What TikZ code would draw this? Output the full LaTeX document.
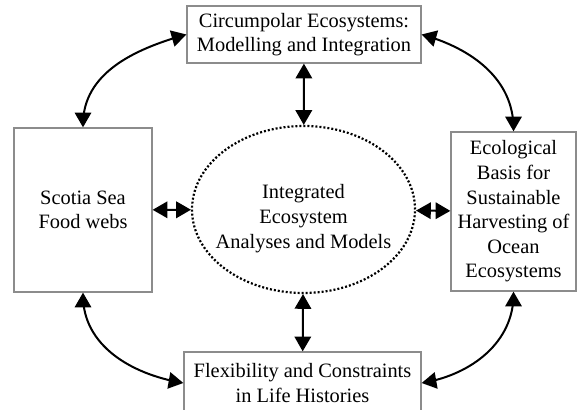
\documentclass[tikz,border=0pt]{standalone}
\usepackage{fontspec}
\setmainfont{Liberation Serif}
\usetikzlibrary{positioning,arrows,shapes.geometric}

\begin{document}
\begin{tikzpicture}[
      x=0.5pt, y=0.5pt,
      boite/.style={
        draw=black!45,
        line width=0.7pt,
        rectangle,
        align=center,
        inner sep=0pt,
        font=\fontsize{10.2}{12.3}\selectfont
      },
      centre/.style={
        draw,
        ellipse,
        line width=1.1pt,
        dash pattern=on 1pt off 1pt,
        inner xsep=-25pt,
        inner ysep=0pt,
        minimum width=111.5pt,
        minimum height=83.5pt,
        font=\fontsize{10.2}{12.3}\selectfont
      },
      arr/.style={
        <->,
        >=triangle 60,
        line width=1pt
      }
    ]
    \useasboundingbox (0,0) rectangle (582,410) ;

    \node[boite, minimum width=117pt, minimum height=28.5pt] (circum) at (304,375.5)
      {Circumpolar Ecosystems:\\Modelling and Integration} ;
    \node[boite, minimum width=69pt, minimum height=82pt] (scotia) at (83,200)
      {Scotia Sea\\Food webs} ;
    \node[boite, minimum width=62.5pt, minimum height=79.5pt] (ecol) at (513.5,198.5)
      {Ecological\\Basis for\\Sustainable\\Harvesting of\\Ocean\\Ecosystems} ;
    \node[boite, minimum width=118.5pt, minimum height=31pt] (flex) at (302.5,27)
      {Flexibility and Constraints\\in Life Histories} ;
    \node[centre] (hub) at (303.5,200.5)
      {\raisebox{-7pt}[0pt][0pt]{\begin{tabular}{@{}c@{}}Integrated\\Ecosystem\\Analyses and Models\end{tabular}}} ;

    \draw[arr] (circum) -- (hub) ;
    \draw[arr] (flex) -- (hub) ;
    \draw[arr] (scotia) -- (hub) ;
    \draw[arr] (ecol) -- (hub) ;

    \draw[arr] (circum.west) to[out=196,in=90] (scotia.north) ;
    \draw[arr] (circum.east) to[out=-16,in=90] (ecol.north) ;
    \draw[arr] (scotia.south) to[out=270,in=170] (flex.west) ;
    \draw[arr] (ecol.south) to[out=270,in=10] (flex.east) ;
  \end{tikzpicture}
\end{document}
